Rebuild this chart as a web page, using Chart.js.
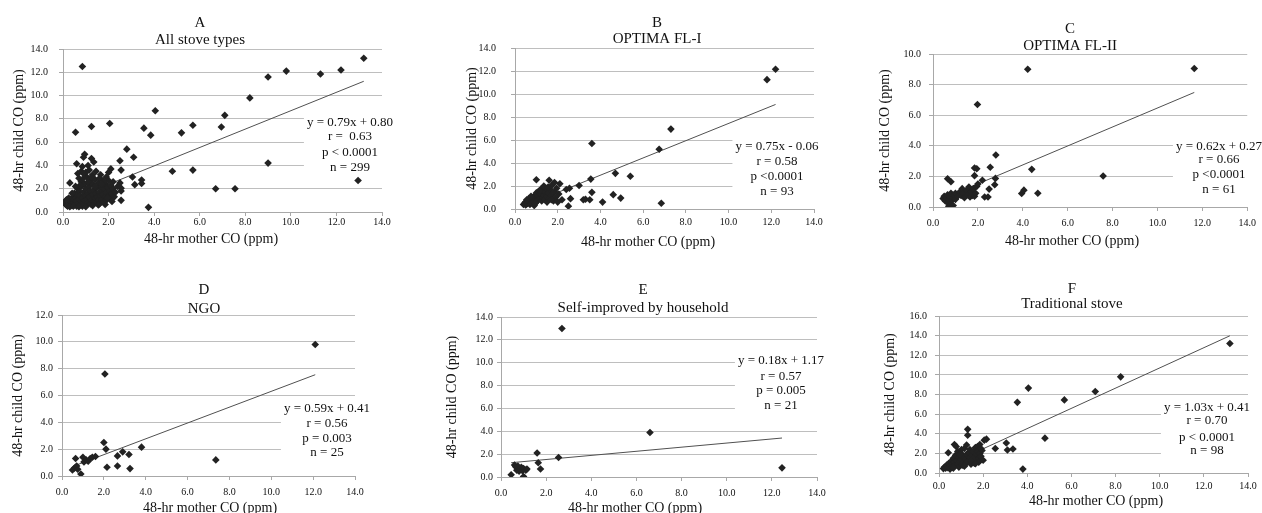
<!DOCTYPE html>
<html>
<head>
<meta charset="utf-8">
<script src="https://cdn.jsdelivr.net/npm/chart.js@4.4.1/dist/chart.umd.min.js"></script>
<style>
  body { margin: 0; background: #fff; width: 1262px; height: 513px; position: relative; overflow: hidden; }
  canvas { position: absolute; }
</style>
</head>
<body>
<canvas id="cA"></canvas>
<canvas id="cB"></canvas>
<canvas id="cC"></canvas>
<canvas id="cD"></canvas>
<canvas id="cE"></canvas>
<canvas id="cF"></canvas>
<script>
// panel labels
const panelLetters = ['A', 'B', 'C', 'D', 'E', 'F'];
const panelNames = ['All stove types', 'OPTIMA FL-I', 'OPTIMA FL-II', 'NGO', 'Self-improved by household', 'Traditional stove'];
const xTitle = '48-hr mother CO (ppm)';
const yTitle = '48-hr child CO (ppm)';

// axis ranges (ticks every 2.0)
const xMax = [14, 14, 14, 14, 14, 14];
const yMax = [14, 14, 10, 12, 14, 16];

// regression lines as printed on each panel
const slopes = [0.79, 0.75, 0.62, 0.59, 0.18, 1.03];
const intercepts = [0.80, -0.06, 0.27, 0.41, 1.17, 0.41];
const statTexts = [
  ['y = 0.79x + 0.80', 'r =  0.63', 'p < 0.0001', 'n = 299'],
  ['y = 0.75x - 0.06', 'r = 0.58', 'p <0.0001', 'n = 93'],
  ['y = 0.62x + 0.27', 'r = 0.66', 'p <0.0001', 'n = 61'],
  ['y = 0.59x + 0.41', 'r = 0.56', 'p = 0.003', 'n = 25'],
  ['y = 0.18x + 1.17', 'r = 0.57', 'p = 0.005', 'n = 21'],
  ['y = 1.03x + 0.41', 'r = 0.70', 'p < 0.0001', 'n = 98']
];

// [mother CO, child CO] pairs
const pointsA = [
  [0.85,12.5],[0.55,6.85],[1.25,7.35],[2.05,7.6],[3.55,7.2],[3.85,6.6],[4.05,8.7],[5.2,6.8],[5.7,7.45],
  [6.95,7.3],[7.1,8.3],[8.2,9.8],[9.0,11.6],[9.8,12.1],[11.3,11.85],[12.2,12.2],[13.2,13.2],[9.0,4.2],
  [12.95,2.7],[4.8,3.5],[5.7,3.6],[6.7,2.0],[7.55,2.0],[3.75,0.4],[2.8,5.4],[3.1,4.7],[3.45,2.75],
  [3.45,2.45],[3.05,3.0],[3.15,2.35],[2.55,1.0],[2.55,1.8],[2.55,2.05],[2.5,2.5],[2.55,3.6],[2.5,4.4],
  [2.1,3.7],[1.85,0.65],[0.3,2.5],[0.6,4.15],[0.95,4.95],[0.9,4.7],[1.25,4.6],[1.35,4.3],[1.1,4.0],
  [0.8,3.5],[1.65,3.2],[1.9,3.0],[2.0,3.4],[2.2,2.6],
  [0.1,0.7],[0.1,0.9],[0.15,0.6],[0.15,0.8],[0.2,0.75],[0.2,0.95],[0.25,0.6],[0.25,0.85],[0.3,0.7],
  [0.3,1.0],[0.35,0.55],[0.35,0.9],[0.4,0.65],[0.4,1.1],[0.45,0.8],[0.45,1.3],[0.5,0.6],[0.5,1.0],
  [0.5,1.6],[0.55,0.75],[0.55,1.2],[0.6,0.5],[0.6,0.95],[0.6,1.5],[0.65,2.0],[0.65,0.7],[0.7,1.1],
  [0.7,1.8],[0.7,2.9],[0.75,0.6],[0.75,1.4],[0.8,0.9],[0.8,2.2],[0.8,2.6],[0.85,1.2],[0.85,0.5],
  [0.9,1.7],[0.9,0.8],[0.95,1.0],[0.95,2.4],[1.0,1.4],[1.0,0.6],[1.0,2.0],[1.05,1.1],[1.05,3.0],
  [1.1,1.6],[1.1,0.8],[1.15,2.2],[1.15,1.3],[1.2,0.7],[1.2,1.8],[1.2,2.7],[1.25,1.0],[1.3,1.5],
  [1.3,2.4],[1.35,0.9],[1.35,1.9],[1.4,1.2],[1.4,2.8],[1.45,1.6],[1.45,0.8],[1.5,2.1],[1.5,1.3],
  [1.55,1.0],[1.55,2.5],[1.6,1.7],[1.6,0.7],[1.65,1.4],[1.65,2.2],[1.7,1.1],[1.7,1.9],[1.75,2.7],
  [1.75,1.5],[1.8,0.9],[1.8,2.0],[1.85,1.3],[1.85,2.4],[1.9,1.7],[1.9,1.0],[1.95,2.1],[2.0,1.4],
  [2.0,2.7],[2.05,1.8],[2.1,1.1],[2.1,2.3],[2.15,1.6],[2.2,2.0],[2.25,1.3],[0.2,0.5],[0.3,0.45],
  [0.45,0.5],[0.7,0.45],[1.0,0.45],
  [0.65,3.3],[0.85,3.9],[1.0,3.4],[1.15,3.6],[1.3,3.2],[1.45,3.5],[0.75,2.3],[0.9,2.9],[1.1,2.6],
  [1.25,3.0],[1.4,2.2],[1.6,2.9],[1.8,2.6],[1.95,1.2],[2.15,0.9],[0.55,2.2],[0.4,1.6],[1.55,0.6],
  [1.3,0.55],[0.9,3.3],[1.7,2.4],[2.3,1.7],[2.4,2.2],[0.25,1.2],[0.15,1.05]
];
const pointsB = [
  [0.4,0.4],[0.45,0.5],[0.5,0.35],[0.5,0.6],[0.55,0.45],[0.6,0.7],[0.6,0.5],[0.65,0.9],[0.7,0.4],
  [0.7,0.6],[0.75,0.8],[0.8,0.5],[0.8,1.0],[0.85,0.7],[0.9,0.3],[0.9,0.9],[0.95,1.2],[1.0,0.6],
  [1.0,1.4],[1.0,2.55],[1.05,0.8],[1.1,1.1],[1.1,1.5],[1.15,0.9],[1.2,1.3],[1.2,1.7],[1.25,0.7],
  [1.3,1.0],[1.3,1.6],[1.35,1.2],[1.4,0.8],[1.4,1.5],[1.45,1.8],[1.5,1.1],[1.5,0.6],[1.55,1.4],
  [1.6,2.5],[1.6,0.9],[1.65,1.7],[1.7,1.2],[1.75,2.1],[1.8,0.7],[1.85,1.5],[1.9,1.0],[1.95,1.8],
  [2.0,0.6],[2.05,1.3],[2.1,2.2],[2.2,0.8],[2.4,1.7],[2.5,0.25],[2.55,1.8],[2.6,0.9],
  [0.55,0.8],[0.75,1.1],[0.95,0.5],[1.15,1.6],[1.35,2.0],[1.55,1.9],[1.7,0.8],[1.85,2.3],
  [3.0,2.05],[3.2,0.8],[3.3,0.85],[3.5,0.8],[3.55,2.6],[3.6,1.45],[3.6,5.7],[4.1,0.6],[4.6,1.25],
  [4.7,3.1],[4.95,0.95],[5.4,2.85],[6.75,5.2],[6.85,0.5],[7.3,6.95],[11.8,11.25],[12.2,12.15]
];
const pointsC = [
  [0.45,0.55],[0.5,0.7],[0.55,0.4],[0.6,0.6],[0.65,0.3],[0.65,0.8],[0.7,0.05],[0.7,0.5],[0.75,0.7],
  [0.8,0.15],[0.8,0.9],[0.85,0.45],[0.9,0.6],[0.9,0.1],[0.95,0.8],[1.0,0.9],[1.0,0.5],[1.1,0.7],
  [1.2,1.0],[1.25,0.75],[1.3,1.2],[1.35,0.9],[1.4,0.6],[1.5,1.1],[1.55,0.8],[1.6,1.3],[1.65,0.65],
  [1.7,1.0],[1.75,0.75],[1.8,1.2],[1.85,0.7],[1.9,0.9],[1.95,1.35],
  [0.65,1.85],[0.8,1.65],[1.85,2.55],[1.95,2.5],[1.85,2.05],[2.0,1.5],[1.98,6.7],[2.2,1.75],
  [2.3,0.65],[2.45,0.65],[2.5,1.17],[2.55,2.6],[2.75,1.45],[2.78,1.87],[2.8,3.4],[3.95,0.88],
  [4.05,1.1],[4.22,9.0],[4.4,2.46],[4.67,0.9],[7.58,2.03],[11.64,9.05]
];
const pointsD = [
  [0.5,0.45],[0.6,0.6],[0.65,1.3],[0.7,0.75],[0.75,0.5],[0.9,0.15],[1.0,1.4],[1.05,1.05],[1.15,1.2],
  [1.25,1.1],[1.35,1.3],[1.45,1.4],[1.6,1.45],[2.0,2.5],[2.05,7.6],[2.1,2.0],[2.15,0.65],[2.65,0.75],
  [2.65,1.5],[2.9,1.8],[3.2,1.6],[3.25,0.55],[3.8,2.15],[7.35,1.2],[12.1,9.8]
];
const pointsE = [
  [0.45,0.2],[0.6,1.05],[0.65,0.9],[0.7,0.6],[0.75,0.8],[0.75,0.95],[0.8,0.5],[0.85,0.7],[0.9,0.85],
  [0.95,0.55],[1.0,0.05],[1.0,0.75],[1.1,0.6],[1.15,0.7],[1.6,2.1],[1.65,1.25],[1.75,0.7],[2.55,1.7],
  [2.7,13.0],[6.6,3.9],[12.45,0.8]
];
const pointsF = [
  [0.2,0.45],[0.25,0.6],[0.3,0.5],[0.35,0.8],[0.4,0.55],[0.42,2.07],[0.45,1.0],[0.5,0.7],[0.5,0.4],
  [0.55,1.2],[0.6,0.9],[0.6,0.6],[0.65,1.5],[0.7,1.1],[0.7,2.9],[0.72,0.75],[0.75,1.8],[0.78,2.7],
  [0.8,1.3],[0.85,0.9],[0.85,2.2],[0.9,1.6],[0.9,0.6],[0.95,1.2],[1.0,2.0],[1.0,1.4],[1.02,2.4],
  [1.05,0.8],[1.1,1.7],[1.1,1.1],[1.15,2.5],[1.2,1.4],[1.2,0.9],[1.25,2.85],[1.25,1.9],[1.3,4.45],
  [1.3,3.85],[1.3,1.2],[1.35,2.1],[1.4,1.6],[1.4,2.4],[1.45,0.9],[1.5,1.8],[1.5,1.3],[1.55,2.2],
  [1.6,1.0],[1.6,1.6],[1.65,2.6],[1.7,1.9],[1.7,1.3],[1.75,2.7],[1.75,2.2],[1.8,1.5],[1.8,1.1],
  [1.85,2.0],[1.85,2.9],[1.9,1.7],[1.95,2.3],[2.0,1.3],[0.65,0.5],[0.95,1.9],[1.15,0.7],[1.45,1.25],
  [1.65,0.95],[1.9,2.5],
  [2.05,3.35],[2.15,3.45],[2.55,2.5],[3.05,3.05],[3.1,2.35],[3.35,2.45],[3.55,7.2],[3.8,0.4],
  [4.05,8.65],[4.8,3.55],[5.68,7.45],[7.08,8.3],[8.23,9.8],[13.18,13.2]
];
const allPoints = [pointsA, pointsB, pointsC, pointsD, pointsE, pointsF];

// where each panel sits on the page (pixels)
const panelBoxes = [
  { id: 'cA', left: 0,   top: 0,   w: 420, h: 256, plot: [63, 382, 49, 212],   titleX: 200,  titleY: [23, 40],   statX: 350,  statY: [123, 137, 153, 168], yTitleX: 19,  xTitleX: 211,  xTitleY: 239, yGap: 15, xGap: 10 },
  { id: 'cB', left: 420, top: 0,   w: 420, h: 256, plot: [515, 814, 48, 209],  titleX: 657,  titleY: [23, 39],   statX: 777,  statY: [147, 162, 177, 192], yTitleX: 472, xTitleX: 648,  xTitleY: 242, yGap: 19, xGap: 13 },
  { id: 'cC', left: 840, top: 0,   w: 422, h: 256, plot: [933, 1249, 54, 207], titleX: 1070, titleY: [29, 46],   statX: 1219, statY: [147, 160, 175, 190], yTitleX: 885, xTitleX: 1072, xTitleY: 241, yGap: 12, xGap: 16 },
  { id: 'cD', left: 0,   top: 256, w: 420, h: 257, plot: [62, 355, 315, 476],  titleX: 204,  titleY: [290, 309], statX: 327,  statY: [409, 424, 439, 453], yTitleX: 18,  xTitleX: 210,  xTitleY: 508, yGap: 9,  xGap: 16 },
  { id: 'cE', left: 420, top: 256, w: 420, h: 257, plot: [501, 817, 317, 477], titleX: 643,  titleY: [290, 308], statX: 781,  statY: [361, 377, 391, 406], yTitleX: 452, xTitleX: 635,  xTitleY: 508, yGap: 8,  xGap: 16 },
  { id: 'cF', left: 840, top: 256, w: 422, h: 257, plot: [939, 1248, 316, 473], titleX: 1072, titleY: [289, 304], statX: 1207, statY: [408, 421, 438, 451], yTitleX: 890, xTitleX: 1096, xTitleY: 501, yGap: 12, xGap: 13 }
];

const serif = '"Liberation Serif", "Times New Roman", serif';
const textColor = '#111';

// titles, axis titles and the regression text box
const panelText = {
  id: 'panelText',
  beforeDatasetsDraw(chart, args, opts) {
    const ctx = chart.ctx;
    const b = opts.box;
    const ox = b.left, oy = b.top;
    ctx.save();
    ctx.fillStyle = textColor;
    ctx.textAlign = 'center';
    ctx.textBaseline = 'middle';

    ctx.font = '15px ' + serif;
    ctx.fillText(opts.letter, b.titleX - ox, b.titleY[0] - oy);
    ctx.fillText(opts.name, b.titleX - ox, b.titleY[1] - oy);

    ctx.font = '14px ' + serif;
    ctx.fillText(xTitle, b.xTitleX - ox, b.xTitleY - oy);
    ctx.save();
    ctx.translate(b.yTitleX - ox, (b.plot[2] + b.plot[3]) / 2 - oy);
    ctx.rotate(-Math.PI / 2);
    ctx.fillText(yTitle, 0, 0);
    ctx.restore();

    ctx.font = '13px ' + serif;
    const wMax = Math.max(...opts.stats.map(s => ctx.measureText(s).width));
    const y0 = b.statY[0] - 8, y1 = b.statY[b.statY.length - 1] + 8;
    ctx.fillStyle = '#fff';
    ctx.fillRect(b.statX - ox - wMax / 2 - 3, y0 - oy, wMax + 6, y1 - y0);
    ctx.fillStyle = textColor;
    opts.stats.forEach((s, i) => ctx.fillText(s, b.statX - ox, b.statY[i] - oy));
    ctx.restore();
  }
};

panelBoxes.forEach((b, i) => {
  const canvas = document.getElementById(b.id);
  canvas.width = b.w;
  canvas.height = b.h;
  canvas.style.left = b.left + 'px';
  canvas.style.top = b.top + 'px';

  const pts = allPoints[i].map(p => ({ x: p[0], y: p[1] }));
  const xs = allPoints[i].map(p => p[0]);
  const xLo = Math.min(...xs), xHi = Math.max(...xs);
  const fit = [
    { x: xLo, y: slopes[i] * xLo + intercepts[i] },
    { x: xHi, y: slopes[i] * xHi + intercepts[i] }
  ];

  new Chart(canvas.getContext('2d'), {
    type: 'scatter',
    data: {
      datasets: [
        {
          label: panelNames[i],
          data: pts,
          pointStyle: 'rectRot',
          pointRadius: 3.8,
          pointHoverRadius: 3.8,
          backgroundColor: '#222',
          borderWidth: 0
        },
        {
          type: 'line',
          label: 'fit',
          data: fit,
          borderColor: '#505050',
          borderWidth: 1,
          pointRadius: 0,
          fill: false
        }
      ]
    },
    plugins: [panelText],
    options: {
      responsive: false,
      animation: false,
      devicePixelRatio: 1,
      layout: {
        padding: { left: 0, bottom: 0, top: b.plot[2] - b.top, right: b.left + b.w - b.plot[1] }
      },
      plugins: {
        legend: { display: false },
        tooltip: { enabled: false },
        panelText: { box: b, letter: panelLetters[i], name: panelNames[i], stats: statTexts[i] }
      },
      scales: {
        x: {
          type: 'linear',
          min: 0,
          max: xMax[i],
          afterFit: s => { s.height = b.top + b.h - b.plot[3]; },
          grid: { drawOnChartArea: false, drawTicks: true, tickLength: 4, tickColor: '#a8a8a8' },
          border: { display: true, color: '#a8a8a8', width: 1 },
          ticks: {
            stepSize: 2,
            autoSkip: false,
            maxRotation: 0,
            padding: b.xGap - 10,
            color: textColor,
            font: { family: serif, size: 10 },
            callback: v => v.toFixed(1)
          }
        },
        y: {
          type: 'linear',
          min: 0,
          max: yMax[i],
          afterFit: s => { s.width = b.plot[0] - b.left; },
          grid: { color: '#bebebe', lineWidth: 1, drawTicks: true, tickLength: 4, tickColor: '#a8a8a8' },
          border: { display: true, color: '#a8a8a8', width: 1 },
          ticks: {
            stepSize: 2,
            autoSkip: false,
            padding: b.yGap - 4,
            color: textColor,
            font: { family: serif, size: 10 },
            callback: v => v.toFixed(1)
          }
        }
      }
    }
  });
});
</script>
</body>
</html>
